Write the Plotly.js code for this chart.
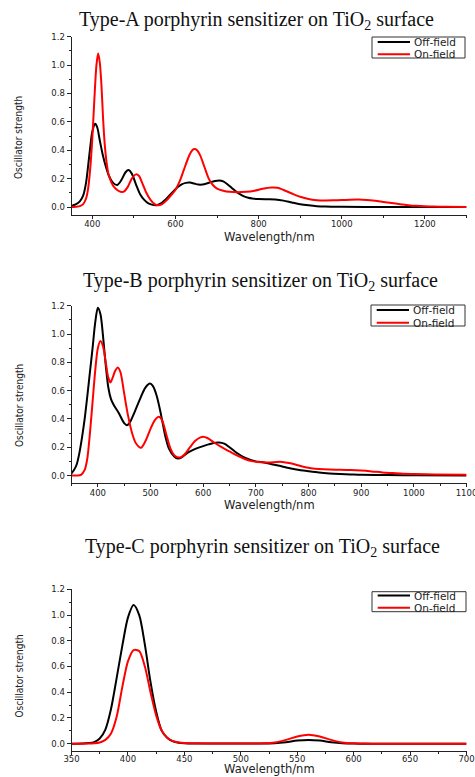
<!DOCTYPE html>
<html><head><meta charset="utf-8">
<script src="https://cdn.plot.ly/plotly-3.0.1.min.js"></script>
<style>html,body{margin:0;padding:0;background:#fff;overflow:hidden;} #chart{width:475px;height:777px;}</style>
</head><body><div id="chart"></div>
<script>
// ---------------- DATA ----------------
const panelTitles = [
  'Type-A porphyrin sensitizer on TiO<sub>2</sub> surface',
  'Type-B porphyrin sensitizer on TiO<sub>2</sub> surface',
  'Type-C porphyrin sensitizer on TiO<sub>2</sub> surface'
];
const seriesNames = ['Off-field', 'On-field'];
const xTitle = 'Wavelength/nm';
const yTitle = 'Oscillator strength';

// Type-A
const aOffX = [350,360,370,378,385,390,395,400,407,412,418,425,432,440,450,460,470,480,487,495,505,515,525,535,545,555,565,575,585,595,605,615,625,635,645,655,665,675,685,695,705,715,725,735,745,755,765,775,785,800,820,840,860,880,900,920,940,960,1000,1100,1200,1300];
const aOffY = [0.008,0.018,0.04,0.08,0.17,0.29,0.42,0.53,0.587,0.56,0.47,0.37,0.29,0.22,0.17,0.155,0.19,0.245,0.26,0.235,0.16,0.09,0.05,0.025,0.015,0.013,0.025,0.05,0.08,0.11,0.14,0.16,0.17,0.172,0.165,0.158,0.158,0.165,0.175,0.183,0.187,0.18,0.16,0.135,0.11,0.09,0.075,0.065,0.06,0.057,0.055,0.053,0.045,0.032,0.02,0.012,0.006,0.003,0.001,0,0,0];
const aOnX = [350,360,370,378,385,390,395,400,405,410,414,418,422,426,430,435,440,450,460,470,476,485,495,505,512,520,530,540,550,558,568,578,590,600,610,620,630,638,645,652,660,670,680,690,700,715,730,750,770,790,810,830,845,860,880,900,920,940,960,980,1000,1020,1040,1060,1080,1100,1120,1140,1160,1180,1200,1220,1250,1300];
const aOnY = [0,0.002,0.006,0.02,0.06,0.13,0.27,0.48,0.76,1.0,1.082,1.02,0.86,0.62,0.44,0.30,0.22,0.15,0.12,0.106,0.108,0.14,0.20,0.23,0.22,0.17,0.10,0.05,0.02,0.012,0.02,0.045,0.085,0.12,0.18,0.26,0.34,0.39,0.408,0.40,0.36,0.28,0.20,0.155,0.13,0.115,0.107,0.104,0.107,0.115,0.128,0.137,0.135,0.12,0.095,0.072,0.056,0.048,0.046,0.047,0.049,0.051,0.052,0.05,0.044,0.036,0.028,0.02,0.013,0.008,0.005,0.003,0.001,0];

// Type-B
const bOffX = [350,355,360,365,370,375,380,385,390,395,400,405,410,415,420,425,430,440,450,455,460,470,480,490,499,505,512,520,528,535,545,552,560,570,580,590,600,610,620,630,640,650,660,670,680,690,700,710,720,730,740,750,760,770,780,790,800,820,840,860,880,900,950,1000,1100];
const bOffY = [0.015,0.04,0.08,0.16,0.27,0.40,0.56,0.73,0.90,1.08,1.186,1.14,0.98,0.78,0.62,0.54,0.50,0.44,0.37,0.355,0.37,0.45,0.54,0.62,0.65,0.63,0.56,0.43,0.28,0.19,0.135,0.12,0.13,0.16,0.18,0.195,0.208,0.22,0.23,0.233,0.225,0.20,0.17,0.145,0.125,0.11,0.10,0.095,0.088,0.08,0.072,0.064,0.055,0.048,0.041,0.035,0.03,0.021,0.015,0.011,0.008,0.005,0.003,0.002,0.001];
const bOnX = [350,360,368,375,380,385,390,395,400,405,410,415,420,424,428,433,438,443,450,457,465,472,482,490,500,508,516,522,530,538,546,556,565,575,585,595,600,608,620,635,650,665,680,695,710,725,740,750,760,775,790,805,820,840,860,880,900,920,940,960,980,1000,1040,1100];
const bOnY = [0,0,0.005,0.04,0.12,0.30,0.52,0.74,0.90,0.95,0.91,0.80,0.69,0.658,0.69,0.74,0.764,0.73,0.58,0.43,0.30,0.23,0.196,0.24,0.33,0.39,0.415,0.39,0.29,0.19,0.14,0.127,0.15,0.20,0.245,0.27,0.274,0.265,0.235,0.20,0.17,0.14,0.115,0.10,0.093,0.092,0.096,0.096,0.09,0.078,0.062,0.052,0.046,0.042,0.041,0.039,0.035,0.029,0.022,0.017,0.012,0.01,0.007,0.005];

// Type-C
const cOffX = [350,360,365,370,375,380,385,390,395,400,405,410,415,420,425,430,435,440,445,450,460,480,500,510,520,530,540,550,560,570,580,590,600,610,620,650,700];
const cOffY = [0,0.002,0.005,0.012,0.04,0.11,0.27,0.51,0.76,0.98,1.078,1.0,0.77,0.48,0.25,0.10,0.045,0.018,0.008,0.004,0.002,0.001,0.001,0.001,0.001,0.004,0.012,0.024,0.029,0.024,0.012,0.004,0.001,0,0,0,0];
const cOnX = [350,365,370,375,380,385,390,395,400,405,410,415,420,425,430,435,440,445,450,460,480,500,510,520,530,540,550,560,570,580,590,600,610,620,650,700];
const cOnY = [0,0.002,0.004,0.01,0.03,0.08,0.21,0.44,0.64,0.728,0.72,0.60,0.40,0.22,0.10,0.045,0.02,0.01,0.006,0.003,0.001,0.001,0.001,0.003,0.01,0.03,0.056,0.07,0.056,0.03,0.01,0.003,0.001,0,0,0];

const xRanges = [[350,1300],[350,1100],[350,700]];
const xMajor = [200,100,50];
const xMinor = [100,50,25];

// ---------------- LAYOUT (pixel geometry) ----------------
const W = 475, H = 777;
const px = x => x / W;
const py = y => 1 - y / H;
const plotLeft = 71.5, plotRight = 466.5;
const geo = [
  {top:36.7, bottom:214.8, ymin:-0.055, tX:256, tY:20,  yT:138, tlStand:-2, xT:237, xTanchor:'middle', leg:[372,465,37,58], l1:42, l2:54.3},
  {top:305.7, bottom:483.3, ymin:-0.055, tX:260.5, tY:282, yT:406, tlStand:-2, xT:505, xTanchor:'middle', leg:[371,465,305,326], l1:310, l2:322.7},
  {top:589.3, bottom:751.3, ymin:-0.059, tX:262.5, tY:547, yT:676.5, tlStand:-4, xT:777, xTanchor:'bottom', leg:[372,466,591.7,611.7], l1:595.5, l2:607.8}
];
const dataSets = [[aOffX,aOffY,aOnX,aOnY],[bOffX,bOffY,bOnX,bOnY],[cOffX,cOffY,cOnX,cOnY]];

const axisColor = '#222';
const sansWide = 'DejaVu Sans, Arial, sans-serif';
const tickFont = {family:sansWide, size:8.5, color:'#222'};
const traces = [];
const layout = {
  width: W, height: H,
  margin: {l:0, r:0, t:0, b:0},
  paper_bgcolor: '#fff', plot_bgcolor: '#fff',
  showlegend: false,
  annotations: [], shapes: []
};

for (let i = 0; i < 3; i++) {
  const sfx = i === 0 ? '' : String(i + 1);
  const g = geo[i];
  const [ox, oy, nx, ny] = dataSets[i];
  traces.push({x: ox, y: oy, type:'scatter', mode:'lines', name: seriesNames[0],
    xaxis:'x'+sfx, yaxis:'y'+sfx, line:{color:'#000', width:2, shape:'spline', smoothing:0.8}});
  traces.push({x: nx, y: ny, type:'scatter', mode:'lines', name: seriesNames[1],
    xaxis:'x'+sfx, yaxis:'y'+sfx, line:{color:'#ff0000', width:2, shape:'spline', smoothing:0.8}});

  layout['xaxis'+sfx] = {
    domain:[px(plotLeft), px(plotRight)], anchor:'y'+sfx, range: xRanges[i],
    showline:true, linecolor:axisColor, linewidth:1, mirror:false,
    ticks:'outside', ticklen:3, tickwidth:1, tickcolor:axisColor,
    tick0:0, dtick:xMajor[i], ticklabelstandoff:g.tlStand,
    minor:{ticks:'outside', ticklen:2, tickwidth:1, tickcolor:axisColor, dtick:xMinor[i], tick0:0, showgrid:false},
    showgrid:false, zeroline:false, tickfont:tickFont, ticklabeloverflow:'allow',
    automargin:false, fixedrange:true
  };
  layout['yaxis'+sfx] = {
    domain:[py(g.bottom), py(g.top)], anchor:'x'+sfx, range:[g.ymin, 1.2001],
    showline:true, linecolor:axisColor, linewidth:1,
    ticks:'outside', ticklen:4, tickwidth:1, tickcolor:axisColor,
    tick0:0, dtick:0.2, tickformat:'.1f',
    minor:{ticks:'outside', ticklen:2, tickwidth:1, tickcolor:axisColor, dtick:0.1, tick0:0, showgrid:false},
    showgrid:false, zeroline:false, tickfont:tickFont, automargin:false, fixedrange:true
  };

  // panel title
  layout.annotations.push({text: panelTitles[i], xref:'paper', yref:'paper', x:px(g.tX), y:py(g.tY),
    xanchor:'center', yanchor:'middle', showarrow:false,
    font:{family:'Liberation Serif, Times New Roman, serif', size:20, color:'#111'}});
  // x title
  layout.annotations.push({text: xTitle, xref:'paper', yref:'paper', x:px((plotLeft+plotRight)/2), y:py(g.xT),
    xanchor:'center', yanchor:g.xTanchor, showarrow:false, borderpad:0,
    font:{family:sansWide, size:11.5, color:'#222'}});
  // y title
  layout.annotations.push({text: yTitle, xref:'paper', yref:'paper', x:px(19), y:py(g.yT),
    xanchor:'center', yanchor:'middle', showarrow:false, textangle:-90,
    font:{family:'Liberation Sans Narrow, DejaVu Sans Condensed, Arial Narrow, sans-serif', size:10, color:'#222'}});

  // legend box
  const [lx0, lx1, ly0, ly1] = g.leg;
  layout.shapes.push({type:'rect', xref:'paper', yref:'paper', x0:px(lx0), x1:px(lx1), y0:py(ly1), y1:py(ly0),
    line:{color:'#333', width:1}, fillcolor:'#fff', layer:'above'});
  layout.shapes.push({type:'line', xref:'paper', yref:'paper', x0:px(lx0+5.7), x1:px(lx0+38), y0:py(g.l1), y1:py(g.l1),
    line:{color:'#000', width:2}, layer:'above'});
  layout.shapes.push({type:'line', xref:'paper', yref:'paper', x0:px(lx0+5.7), x1:px(lx0+38), y0:py(g.l2), y1:py(g.l2),
    line:{color:'#ff0000', width:2}, layer:'above'});
  layout.annotations.push({text: seriesNames[0], xref:'paper', yref:'paper', x:px(lx0+41), y:py(g.l1),
    xanchor:'left', yanchor:'middle', showarrow:false, borderpad:0, font:{family:sansWide, size:10.5, color:'#222'}});
  layout.annotations.push({text: seriesNames[1], xref:'paper', yref:'paper', x:px(lx0+41), y:py(g.l2),
    xanchor:'left', yanchor:'middle', showarrow:false, borderpad:0, font:{family:sansWide, size:10.5, color:'#222'}});
}

Plotly.newPlot('chart', traces, layout, {displayModeBar:false, staticPlot:true});
</script>
</body></html>
